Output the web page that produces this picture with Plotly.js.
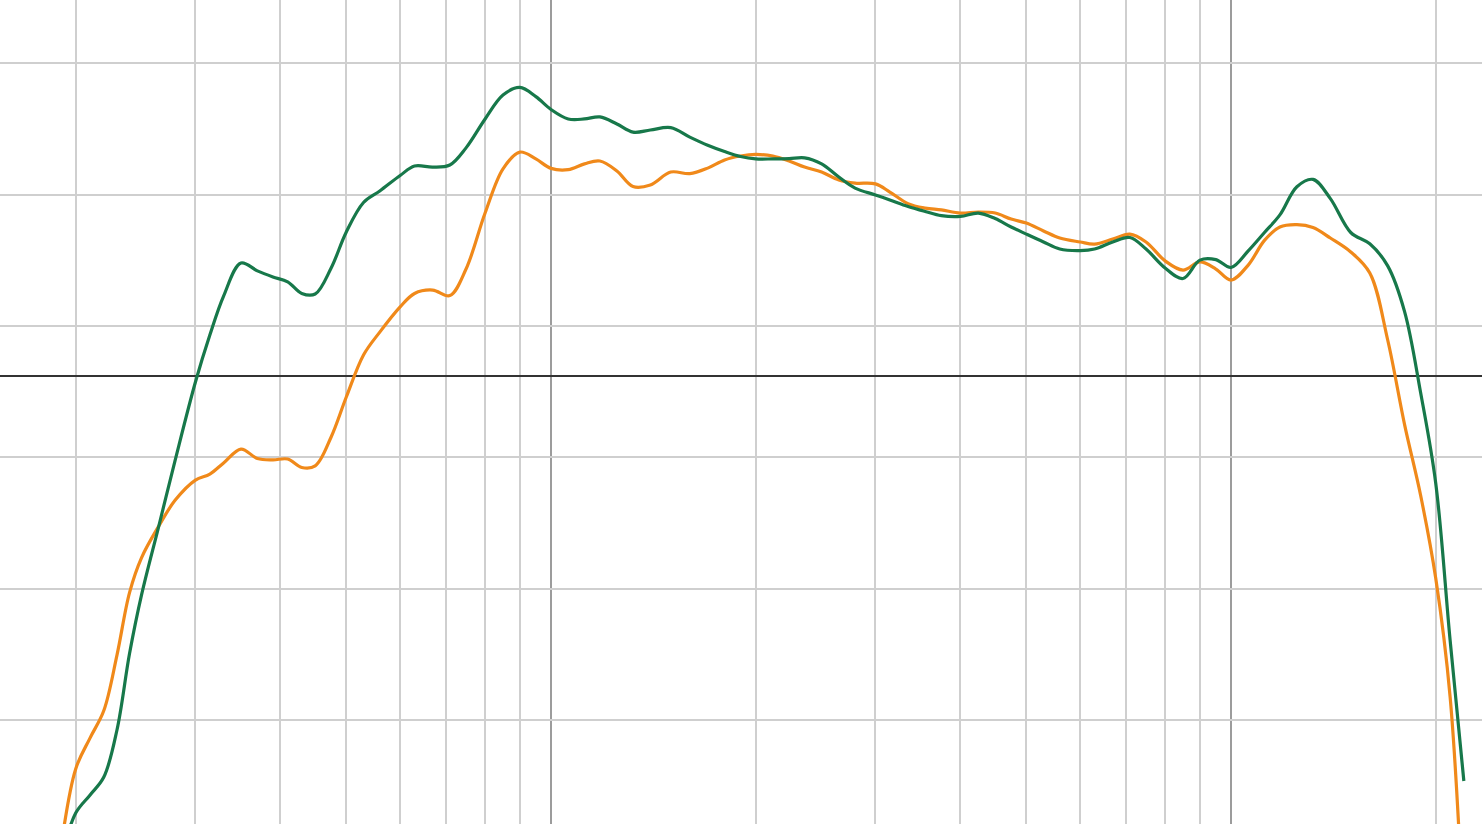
<!DOCTYPE html>
<html>
<head>
<meta charset="utf-8">
<script src="https://cdn.plot.ly/plotly-3.0.1.min.js"></script>
<style>
html,body{margin:0;padding:0;background:#fff;}
#chart{width:1482px;height:824px;}
</style>
</head>
<body>
<div id="chart"></div>
<script>
// Frequency (Hz)
const freqHz = [190,200,210,220,230,240,250,265,280,300,315,330,350,370,390,410,430,450,475,500,530,560,600,630,670,710,750,800,850,900,950,1000,1060,1120,1180,1250,1320,1400,1500,1600,1700,1800,1900,2000,2120,2240,2360,2500,2650,2800,3000,3150,3350,3550,3750,4000,4250,4500,4750,5000,5300,5600,6000,6300,6700,7100,7500,8000,8500,9000,9500,10000,10600,11200,11800,12500,13200,14000,15000,16000,17000,18000,19000,20000,21000,22000];

// Green series (dB)
const greenDb = [-18.4,-16.63,-15.94,-15.26,-13.47,-10.56,-8.32,-5.71,-3.22,-0.23,1.56,3.04,4.30,4.00,3.77,3.58,3.14,3.12,4.11,5.48,6.60,7.04,7.63,7.99,7.95,8.03,8.68,9.78,10.69,10.98,10.63,10.14,9.78,9.78,9.86,9.59,9.28,9.36,9.45,9.09,8.78,8.54,8.35,8.26,8.26,8.27,8.30,8.07,7.57,7.15,6.89,6.70,6.45,6.26,6.10,6.07,6.20,5.99,5.67,5.40,5.10,4.83,4.77,4.83,5.10,5.27,4.83,4.11,3.71,4.41,4.43,4.13,4.76,5.46,6.13,7.20,7.48,6.75,5.46,5.03,4.19,2.45,-0.62,-4.07,-10.05,-15.41];

// Orange series (dB)
const orangeDb = [-18.04,-14.95,-13.77,-12.73,-10.62,-8.24,-6.91,-5.71,-4.73,-3.96,-3.73,-3.31,-2.78,-3.14,-3.19,-3.16,-3.48,-3.42,-2.32,-0.80,0.80,1.67,2.63,3.14,3.27,3.06,4.07,6.20,7.88,8.52,8.26,7.90,7.85,8.07,8.18,7.80,7.21,7.27,7.76,7.70,7.91,8.22,8.37,8.43,8.37,8.18,7.95,7.76,7.46,7.34,7.31,7.00,6.56,6.39,6.32,6.20,6.24,6.20,5.97,5.82,5.52,5.25,5.10,5.02,5.21,5.40,5.10,4.38,4.03,4.34,4.07,3.65,4.22,5.16,5.67,5.76,5.65,5.25,4.72,3.92,1.37,-1.85,-4.53,-7.69,-12.21,-21.0];

const traces = [
  {x: freqHz, y: orangeDb, type: 'scatter', mode: 'lines',
   line: {color: '#f0891a', width: 3.2, shape: 'spline', smoothing: 1}, hoverinfo: 'skip'},
  {x: freqHz, y: greenDb, type: 'scatter', mode: 'lines',
   line: {color: '#17784a', width: 3.2, shape: 'spline', smoothing: 1}, hoverinfo: 'skip'}
];

const layout = {
  width: 1482, height: 824,
  margin: {l: 0, r: 0, t: 0, b: 0, pad: 0},
  paper_bgcolor: '#ffffff', plot_bgcolor: '#ffffff',
  showlegend: false,
  xaxis: {
    type: 'log', range: [2.18971, 4.36912],
    dtick: 1, showticklabels: false, ticks: '',
    showgrid: true, gridcolor: '#9c9c9c', gridwidth: 2,
    minor: {dtick: 'D1', showgrid: true, gridcolor: '#cfcfcf', gridwidth: 2, ticks: ''},
    zeroline: false, showline: false, fixedrange: true
  },
  yaxis: {
    range: [-17.047, 14.307], dtick: 5, tick0: 1.903,
    showticklabels: false, ticks: '',
    showgrid: true, gridcolor: '#cfcfcf', gridwidth: 2,
    zeroline: true, zerolinecolor: '#333333', zerolinewidth: 2,
    showline: false, fixedrange: true
  }
};

Plotly.newPlot('chart', traces, layout, {displayModeBar: false, staticPlot: true});
</script>
</body>
</html>
